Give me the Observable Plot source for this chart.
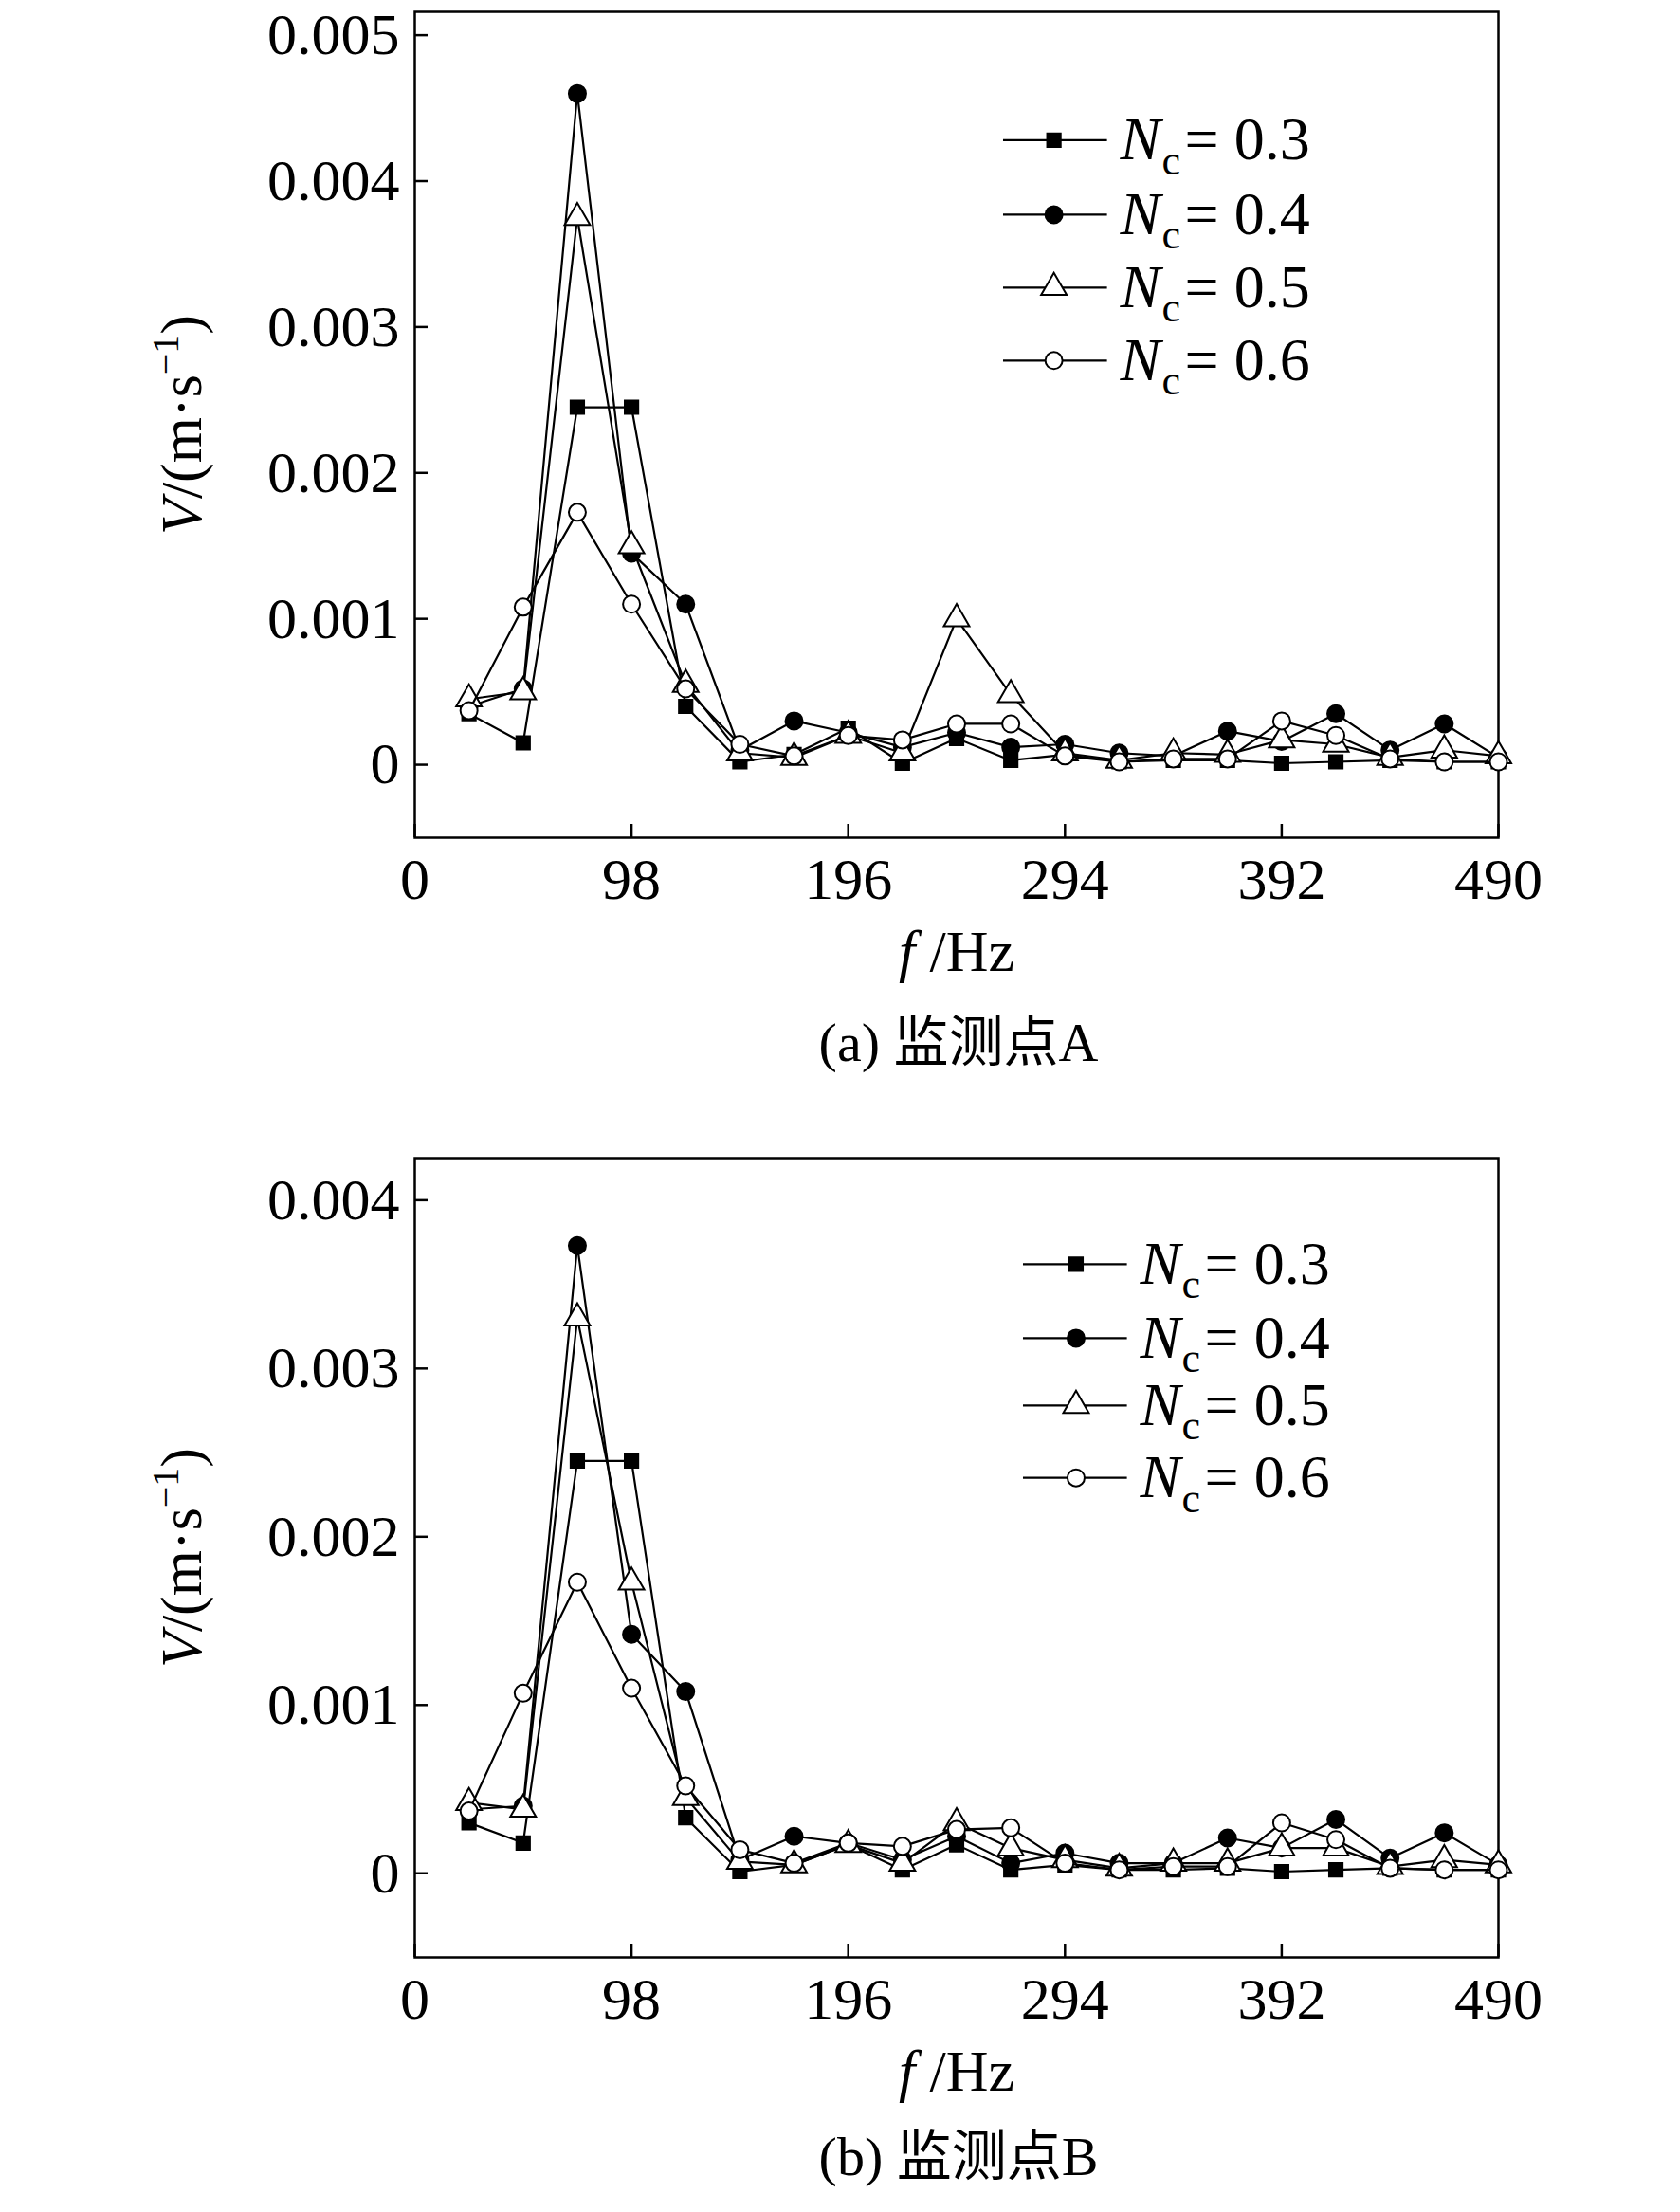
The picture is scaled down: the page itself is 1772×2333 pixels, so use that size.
<!DOCTYPE html>
<html><head><meta charset="utf-8">
<script src="https://cdn.jsdelivr.net/npm/d3@7"></script>
<script src="https://cdn.jsdelivr.net/npm/@observablehq/plot@0.6"></script>
<style>
body{margin:0;background:#fff;width:1772px;font-family:"Liberation Serif",serif;}
.cap{font-family:"Liberation Serif","Noto Sans CJK SC",serif;font-size:58px;text-align:center;padding-left:250px;width:1522px;}
</style></head><body>
<div id="a"></div><div class="cap" style="height:138px;line-height:114px">(a) 监测点A</div>
<div id="b"></div><div class="cap" style="line-height:102px">(b) 监测点B</div>
<script>
const freqs = [24.5,49,73.5,98,122.5,147,171.5,196,220.5,245,269.5,294,318.5,343,367.5,392,416.5,441,465.5,490];
const seriesNames = ["0.3","0.4","0.5","0.6"];
const A03=[0.00035,0.00015,0.00245,0.00245,0.0004,0.00002,0.00007,0.00025,0.00001,0.00018,0.00003,0.00007,0.00002,0.00003,0.00003,0.00001,0.00002,0.00003,0.00002,0.00002];
const A04=[0.0004,0.00052,0.0046,0.00145,0.0011,0.0001,0.0003,0.00022,0.00012,0.00022,0.00012,0.00014,0.00008,0.00006,0.00023,0.00016,0.00035,0.0001,0.00028,0.00005];
const A05=[0.00045,0.0005,0.00375,0.0015,0.00055,0.00008,0.00005,0.0002,0.00008,0.001,0.00048,0.00008,0.00003,0.00008,0.00007,0.00017,0.00014,0.00005,0.0001,0.00006];
const A06=[0.00037,0.00108,0.00173,0.0011,0.00052,0.00014,0.00006,0.0002,0.00017,0.00028,0.00028,0.00006,0.00002,0.00004,0.00004,0.0003,0.0002,0.00004,0.00002,0.00002];
const B03=[0.0003,0.00018,0.00245,0.00245,0.00033,0.00001,0.00005,0.00017,0.00002,0.00017,0.00002,0.00005,0.00002,0.00002,0.00003,0.00001,0.00002,0.00003,0.00002,0.00002];
const B04=[0.00038,0.0004,0.00373,0.00142,0.00108,0.00008,0.00022,0.00018,0.00008,0.00022,0.00006,0.00012,0.00006,0.00006,0.00021,0.00015,0.00032,0.00009,0.00024,0.00005];
const B05=[0.00042,0.00038,0.0033,0.00173,0.00045,0.00007,0.00005,0.00017,0.00006,0.0003,0.00015,0.00008,0.00003,0.00006,0.00006,0.00015,0.00015,0.00004,0.00008,0.00005];
const B06=[0.00037,0.00107,0.00173,0.0011,0.00052,0.00014,0.00006,0.00018,0.00016,0.00026,0.00027,0.00006,0.00002,0.00004,0.00004,0.0003,0.0002,0.00003,0.00002,0.00002];
const xTicks=[0,98,196,294,392,490];
const yTicksA=[0,0.001,0.002,0.003,0.004,0.005];
const yTicksB=[0,0.001,0.002,0.003,0.004];

const sym=[{symbol:"square",fill:"black",r:8},{symbol:"circle",fill:"black",r:9},{symbol:"triangle",fill:"white",r:10},{symbol:"circle",fill:"white",r:9}];

function panel(vals, yDom, yTicks, legX, legY, marginTop, plotH){
  const data=[];
  vals.forEach((arr,i)=>arr.forEach((v,j)=>data.push({s:i,x:freqs[j],y:v})));
  const leg=seriesNames.map((n,i)=>({s:i,y:legY[i],n}));
  const marks=[Plot.frame({stroke:"black",strokeWidth:2.5})];
  for(let i=0;i<4;i++){
    const d=data.filter(p=>p.s===i);
    marks.push(Plot.line(d,{x:"x",y:"y",stroke:"black",strokeWidth:2.2}));
    marks.push(Plot.dot(d,{x:"x",y:"y",symbol:()=>sym[i].symbol,fill:sym[i].fill,stroke:"black",strokeWidth:2,r:sym[i].r}));
    const l=leg.filter(p=>p.s===i);
    marks.push(Plot.link(l,{x1:legX[0],x2:legX[2],y1:"y",y2:"y",stroke:"black",strokeWidth:2.2}));
    marks.push(Plot.dot(l,{x:legX[1],y:"y",symbol:()=>sym[i].symbol,fill:sym[i].fill,stroke:"black",strokeWidth:2,r:sym[i].r}));
    marks.push(Plot.text(l,{x:legX[3],y:"y",text:()=>"N",fontStyle:"italic",fontSize:64,textAnchor:"start"}));
    marks.push(Plot.text(l,{x:legX[3],y:"y",text:()=>"c",fontSize:44,textAnchor:"start",dx:44,dy:22}));
    marks.push(Plot.text(l,{x:legX[3],y:"y",text:d=>"= "+d.n,fontSize:64,textAnchor:"start",dx:68}));
  }
  const p=Plot.plot({
    width:1772,height:marginTop+plotH+160,marginLeft:437,marginRight:192,marginTop,marginBottom:160,
    style:{fontFamily:"Liberation Serif, serif",fontSize:"62px",color:"black",background:"white"},
    x:{domain:[0,490],ticks:xTicks,tickSize:-14,tickPadding:34,tickFormat:d=>String(d),label:"f /Hz",labelAnchor:"center",labelOffset:140,labelArrow:"none"},
    y:{domain:yDom,ticks:yTicks,tickSize:-14,tickPadding:30,tickFormat:d=>d===0?"0":d3.format(".3f")(d),label:"V/(m·s⁻¹)",labelAnchor:"center",labelOffset:270,labelArrow:"none"},
    marks
  });
  p.querySelectorAll('[aria-label="y-axis tick"] path,[aria-label="x-axis tick"] path').forEach(e=>e.setAttribute("stroke-width","2.5"));
  const yl=p.querySelector('[aria-label="y-axis label"] text');
  if(yl){yl.innerHTML='<tspan font-style="italic">V</tspan>/(m·s<tspan font-size="40" dy="-24">−1</tspan><tspan dy="24">)</tspan>';}
  const xl=p.querySelector('[aria-label="x-axis label"] text');
  if(xl){xl.innerHTML='<tspan font-style="italic">f</tspan> /Hz';}
  return p;
}
document.getElementById("a").append(panel([A03,A04,A05,A06],[-0.0005,0.00516],yTicksA,[266,289,313,319],[0.00428,0.00377,0.00327,0.00277],12,871));
document.getElementById("b").append(panel([B03,B04,B05,B06],[-0.0005,0.00425],yTicksB,[275,299,322,328],[0.00362,0.00318,0.00278,0.00235],40,843));
</script></body></html>
